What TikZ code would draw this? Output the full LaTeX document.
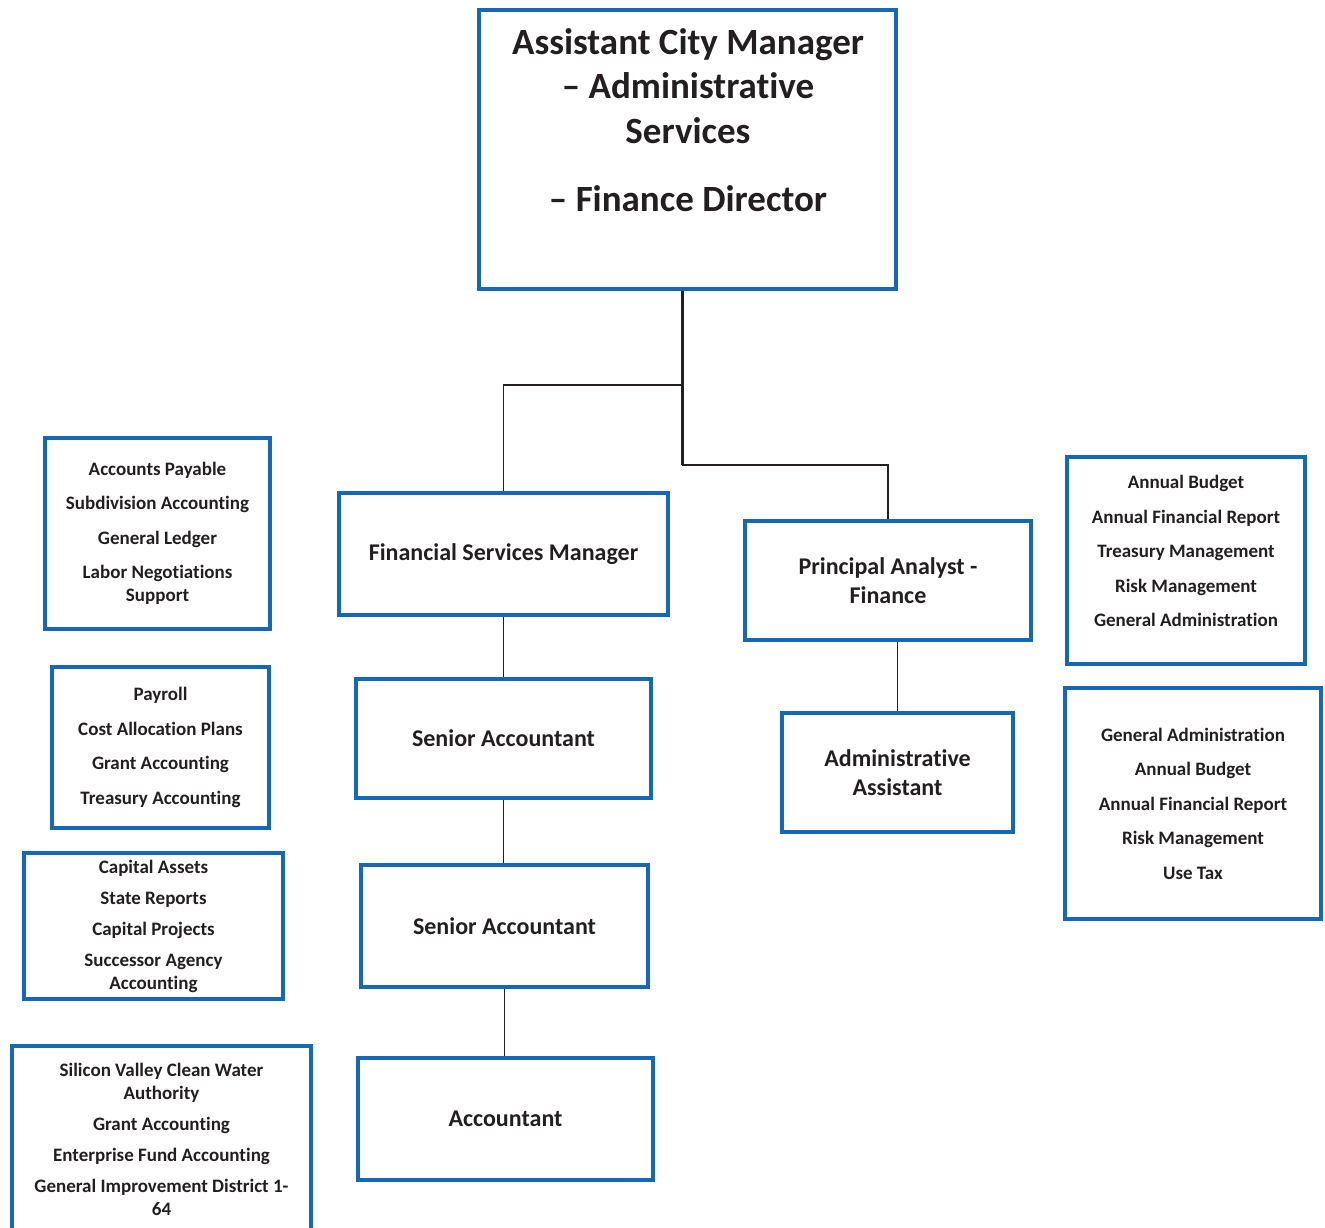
\documentclass[tikz,border=0pt]{standalone}
\usepackage{fontspec}
\setmainfont{Carlito}[Ligatures=NoCommon]
\definecolor{orgblue}{RGB}{21,104,184}
\definecolor{inkgray}{RGB}{35,31,32}
\begin{document}
\begin{tikzpicture}[x=1pt, y=-1pt, line join=miter,
    box/.style={draw=orgblue, line width=4pt, inner sep=0pt, align=center, text=inkgray, font=\bfseries},
    txt/.style={inner sep=0pt, align=center, text=inkgray, font=\bfseries},
    big/.style={font=\bfseries\fontsize{37}{44.5}\selectfont},
    mid/.style={font=\bfseries\fontsize{24}{29}\selectfont},
    small/.style={font=\bfseries\fontsize{19}{23}\selectfont},
    link/.style={draw=inkgray, line width=1.8pt},
    trunk/.style={draw=inkgray, line width=3pt}]
    \useasboundingbox (0,0) rectangle (1325,1228);
    % top of the chart
    \node[box, minimum width=417, minimum height=279] (acm) at (687.5,149.5) {};
    \node[txt, big] (acmtext) at (688,120) {Assistant City Manager\\ – Administrative\\ Services\\[23.5pt] – Finance Director};
    % middle column
    \node[box, mid, minimum width=329, minimum height=122] (fsm) at (503.5,554) {Financial Services Manager};
    \node[box, mid, minimum width=295, minimum height=119] (sa1) at (503.5,738.5) {Senior Accountant};
    \node[box, mid, minimum width=287, minimum height=122] (sa2) at (504.5,926) {Senior Accountant};
    \node[box, mid, minimum width=295, minimum height=122] (acct) at (505.5,1119) {Accountant};
    \node[box, mid, minimum width=286, minimum height=119] (pa) at (888,580.5) {Principal Analyst -\\ Finance};
    \node[box, mid, minimum width=231, minimum height=119] (aa) at (897.5,772.5) {Administrative\\ Assistant};
    % duty lists, left
    \node[box, small, minimum width=225, minimum height=191] (dutya) at (157.5,533.5)
        {Accounts Payable\\[11.5pt] Subdivision Accounting\\[11.5pt] General Ledger\\[11.5pt] Labor Negotiations\\ Support};
    \node[box, small, minimum width=217, minimum height=161] (dutyb) at (160.5,747.5)
        {Payroll\\[11.5pt] Cost Allocation Plans\\[11.5pt] Grant Accounting\\[11.5pt] Treasury Accounting};
    \node[box, small, minimum width=259, minimum height=146] (dutyc) at (153.5,926)
        {Capital Assets\\[8pt] State Reports\\[8pt] Capital Projects\\[8pt] Successor Agency\\ Accounting};
    \node[box, minimum width=299, minimum height=206] (dutyd) at (161.5,1149) {};
    \node[txt, small] (dutydtext) at (161.5,1139)
        {Silicon Valley Clean Water\\ Authority\\[8pt] Grant Accounting\\[8pt] Enterprise Fund Accounting\\[8pt] General Improvement District 1-\\ 64};
    % duty lists, right
    \node[box, minimum width=238, minimum height=207] (dutye) at (1186,560.5) {};
    \node[txt, small] (dutyetext) at (1186,551)
        {Annual Budget\\[11.5pt] Annual Financial Report\\[11.5pt] Treasury Management\\[11.5pt] Risk Management\\[11.5pt] General Administration};
    \node[box, small, minimum width=256, minimum height=231] (dutyf) at (1193,803.5)
        {General Administration\\[11.5pt] Annual Budget\\[11.5pt] Annual Financial Report\\[11.5pt] Risk Management\\[11.5pt] Use Tax};
    % reporting lines
    \coordinate (split) at (682,385);
    \coordinate (turn) at (682,465);
    \draw[trunk] (acm.south -| split) -- (turn);
    \draw[link] (split) -| (fsm.north);
    \draw[link] (turn) -| (pa.north);
    \draw[link] (fsm.south) -- (fsm.south |- sa1.north);
    \draw[link] (sa1.south) -- (sa1.south |- sa2.north);
    \draw[link] (sa2.south) -- (sa2.south |- acct.north);
    \draw[link] (pa.south -| aa.north) -- (aa.north);
\end{tikzpicture}
\end{document}
